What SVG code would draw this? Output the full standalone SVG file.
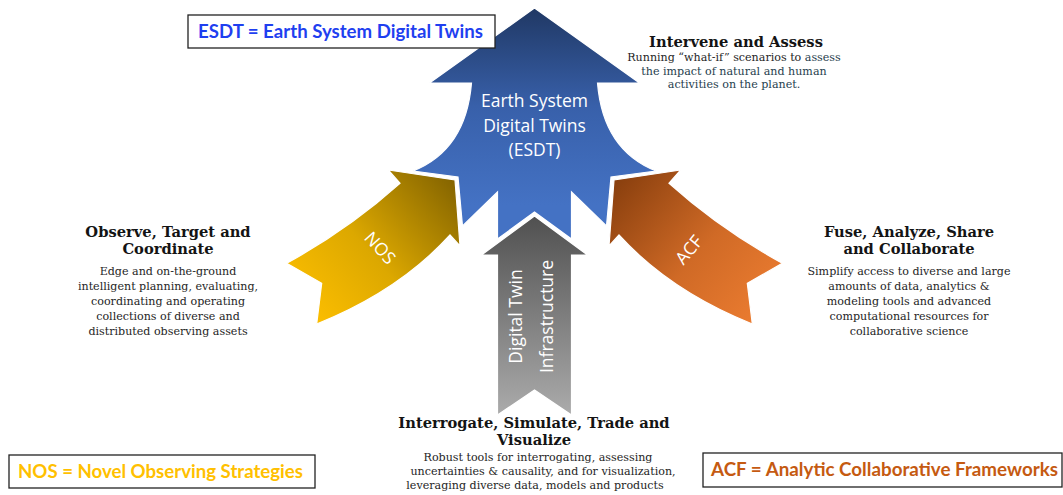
<svg xmlns="http://www.w3.org/2000/svg" width="1063" height="495" viewBox="0 0 1063 495">
  <defs>
    <linearGradient id="gBlue" gradientUnits="userSpaceOnUse" x1="0" y1="8" x2="0" y2="205">
      <stop offset="0" stop-color="#203864"/>
      <stop offset="0.5" stop-color="#3860aa"/>
      <stop offset="1" stop-color="#4472c4"/>
    </linearGradient>
    <linearGradient id="gGray" gradientUnits="userSpaceOnUse" x1="0" y1="216" x2="0" y2="415">
      <stop offset="0" stop-color="#505050"/>
      <stop offset="1" stop-color="#ababab"/>
    </linearGradient>
    <linearGradient id="gNos" gradientUnits="userSpaceOnUse" x1="300" y1="320" x2="462" y2="178">
      <stop offset="0" stop-color="#ffc000"/>
      <stop offset="0.45" stop-color="#dca800"/>
      <stop offset="1" stop-color="#7f6000"/>
    </linearGradient>
    <linearGradient id="gAcf" gradientUnits="userSpaceOnUse" x1="769" y1="320" x2="607" y2="178">
      <stop offset="0" stop-color="#ed7d31"/>
      <stop offset="0.45" stop-color="#d06a26"/>
      <stop offset="1" stop-color="#843c0c"/>
    </linearGradient>
  </defs>
  <style>
    .arrow { stroke: #ffffff; stroke-width: 1.2; stroke-linejoin: miter; }
    .lbl { font-family: "Open Sans", "DejaVu Sans", sans-serif; font-size: 17.5px; fill: #ffffff; text-anchor: middle; }
    .ttl { font-family: "DejaVu Serif", "Liberation Serif", serif; font-weight: bold; font-size: 14.7px; fill: #141414; text-anchor: middle; }
    .body { font-family: "DejaVu Serif", "Liberation Serif", serif; font-size: 11.1px; fill: #1e1e1e; text-anchor: middle; }
    .teal { fill: #1f3e4e; }
    .key { fill: #ffffff; stroke: #222222; stroke-width: 1.3; }
    .keytxt { font-family: Lato, "Open Sans", sans-serif; font-weight: bold; font-size: 18px; }
  </style>

  <!-- main upward arrow -->
  <g id="esdt">
    <path class="arrow" fill="url(#gBlue)" d="M534.5,8 L639.5,83 L597.5,83 Q603,150 656,171 L611,177 L606.5,226 L571.5,192 L571.5,239 L534.5,212 L497.5,239 L497.5,192 L462.5,226 L458,177 L413,171 Q466,150 471.5,83 L429.5,83 Z"/>
    <text class="lbl" x="534.5" y="107">Earth System</text>
    <text class="lbl" x="534.5" y="132">Digital Twins</text>
    <text class="lbl" x="534.5" y="156">(ESDT)</text>
  </g>

  <!-- curved arrow from the left -->
  <g id="nos">
    <path class="arrow" fill="url(#gNos)" d="M286.7,263.3 Q349,229 400,183.3 L388.3,170 L455,180 L460,246 L450,235 Q399,291 316.7,324 L321.7,283.3 Z"/>
    <text class="lbl" transform="translate(380,248) rotate(48)" y="6">NOS</text>
  </g>

  <!-- curved arrow from the right -->
  <g id="acf">
    <path class="arrow" fill="url(#gAcf)" d="M782.3,263.3 Q720,229 669,183.3 L680.7,170 L614,180 L609,246 L619,235 Q670,291 752.3,324 L747.3,283.3 Z"/>
    <text class="lbl" transform="translate(689,250) rotate(-50)" y="6">ACF</text>
  </g>

  <!-- vertical arrow from below -->
  <g id="infra">
    <path class="arrow" fill="url(#gGray)" d="M534.5,216 L587.5,255 L571.5,255 L571.5,415 L534.5,390 L497.5,415 L497.5,255 L481.5,255 Z"/>
    <text class="lbl" transform="translate(522,316.5) rotate(-90)">Digital Twin</text>
    <text class="lbl" transform="translate(553,316.5) rotate(-90)">Infrastructure</text>
  </g>

  <!-- no connectors besides the arrow shapes -->
  <g id="connectors"/>

  <g id="intervene">
    <text class="ttl" x="736" y="47" font-size="14.3">Intervene and Assess</text>
    <text class="body" x="734" y="61" font-size="11">Running “what-if” scenarios to <tspan class="teal">assess</tspan></text>
    <text class="body teal" x="734" y="74.5" font-size="11">the impact of natural and human</text>
    <text class="body teal" x="734" y="88" font-size="11">activities on the planet.</text>
  </g>

  <g id="observe">
    <text class="ttl" x="168" y="237">Observe, Target and</text>
    <text class="ttl" x="168" y="254">Coordinate</text>
    <text class="body" x="168" y="275">Edge and on-the-ground</text>
    <text class="body" x="168" y="290">intelligent planning, evaluating,</text>
    <text class="body" x="168" y="305">coordinating and operating</text>
    <text class="body" x="168" y="320">collections of diverse and</text>
    <text class="body" x="168" y="335">distributed observing assets</text>
  </g>

  <g id="fuse">
    <text class="ttl" x="909" y="237">Fuse, Analyze, Share</text>
    <text class="ttl" x="909" y="254">and Collaborate</text>
    <text class="body" x="909" y="275">Simplify access to diverse and large</text>
    <text class="body" x="909" y="290">amounts of data, analytics &amp;</text>
    <text class="body" x="909" y="305">modeling tools and advanced</text>
    <text class="body" x="909" y="320">computational resources for</text>
    <text class="body" x="909" y="335">collaborative science</text>
  </g>

  <g id="interrogate">
    <text class="ttl" x="534" y="428">Interrogate, Simulate, Trade and</text>
    <text class="ttl" x="534" y="445">Visualize</text>
    <text class="body" x="538" y="461" font-size="11.4">Robust tools for interrogating, assessing</text>
    <text class="body" x="543" y="475" font-size="11.4">uncertainties &amp; causality, and for visualization,</text>
    <text class="body" x="535" y="489" font-size="11.4">leveraging diverse data, models and products</text>
  </g>

  <!-- legend boxes -->
  <g id="key-esdt">
    <rect class="key" x="188" y="15" width="307" height="33"/>
    <text class="keytxt" x="198" y="38" fill="#1f3ff0" textLength="285" lengthAdjust="spacingAndGlyphs">ESDT = Earth System Digital Twins</text>
  </g>
  <g id="key-nos">
    <rect class="key" x="9" y="455" width="306" height="33"/>
    <text class="keytxt" x="18" y="478" fill="#ffc000" textLength="285" lengthAdjust="spacingAndGlyphs">NOS = Novel Observing Strategies</text>
  </g>
  <g id="key-acf">
    <rect class="key" x="703" y="453" width="359" height="34"/>
    <text class="keytxt" x="711" y="476" fill="#c55a11" textLength="347" lengthAdjust="spacingAndGlyphs">ACF = Analytic Collaborative Frameworks</text>
  </g>
</svg>
